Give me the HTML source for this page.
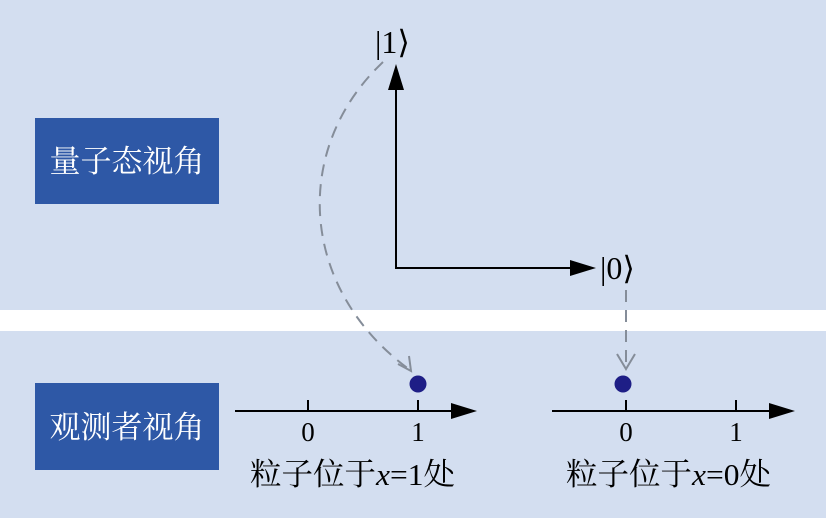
<!DOCTYPE html>
<html><head><meta charset="utf-8"><style>
body{margin:0;width:826px;height:518px;overflow:hidden;background:#fff;font-family:"Liberation Serif","Noto Serif CJK SC",serif}
</style></head><body>
<svg width="826" height="518" xmlns="http://www.w3.org/2000/svg" font-family="Liberation Serif, Noto Serif CJK SC, serif">
<rect x="0" y="0" width="826" height="310" fill="#d3def0"/>
<rect x="0" y="331" width="826" height="187" fill="#d3def0"/>
<rect x="35" y="118" width="184" height="86" fill="#2e58a6"/>
<rect x="35" y="383" width="184" height="87" fill="#2e58a6"/>
<text x="127" y="172" font-size="31" fill="#fff" text-anchor="middle">量子态视角</text>
<text x="127" y="438" font-size="31" fill="#fff" text-anchor="middle">观测者视角</text>
<line x1="396" y1="268" x2="396" y2="86" stroke="#000" stroke-width="2"/>
<polygon points="396,64 388,90 404,90" fill="#000"/>
<line x1="395" y1="268" x2="574" y2="268" stroke="#000" stroke-width="2"/>
<polygon points="596,268 570,260 570,276" fill="#000"/>
<text x="375" y="53" font-size="32">|1⟩</text>
<text x="600" y="279" font-size="32">|0⟩</text>
<path d="M383,62 C290,150 300,290 410,370" fill="none" stroke="#858d99" stroke-width="2" stroke-dasharray="12,8"/>
<polyline points="398,364 411,371 409,356" fill="none" stroke="#858d99" stroke-width="2"/>
<line x1="626" y1="290" x2="626" y2="368" stroke="#858d99" stroke-width="2" stroke-dasharray="12,8"/>
<polyline points="617,354 626,369 635,354" fill="none" stroke="#858d99" stroke-width="2"/>
<line x1="235" y1="411" x2="455" y2="411" stroke="#000" stroke-width="2"/>
<polygon points="477,411 451,403 451,419" fill="#000"/>
<line x1="308" y1="400" x2="308" y2="411" stroke="#000" stroke-width="2"/>
<line x1="418" y1="400" x2="418" y2="411" stroke="#000" stroke-width="2"/>
<text x="308" y="441" font-size="27" text-anchor="middle">0</text>
<text x="418" y="441" font-size="27" text-anchor="middle">1</text>
<circle cx="418" cy="384" r="8.5" fill="#1e1e86"/>
<line x1="552" y1="411" x2="772" y2="411" stroke="#000" stroke-width="2"/>
<polygon points="795,411 769,403 769,419" fill="#000"/>
<line x1="626" y1="400" x2="626" y2="411" stroke="#000" stroke-width="2"/>
<line x1="736" y1="400" x2="736" y2="411" stroke="#000" stroke-width="2"/>
<text x="626" y="441" font-size="27" text-anchor="middle">0</text>
<text x="736" y="441" font-size="27" text-anchor="middle">1</text>
<circle cx="623" cy="384" r="8.5" fill="#1e1e86"/>
<text x="250" y="485" font-size="31" textLength="205" lengthAdjust="spacingAndGlyphs">粒子位于<tspan font-style="italic">x</tspan>=1处</text>
<text x="566" y="485" font-size="31" textLength="205" lengthAdjust="spacingAndGlyphs">粒子位于<tspan font-style="italic">x</tspan>=0处</text>
</svg>
</body></html>
